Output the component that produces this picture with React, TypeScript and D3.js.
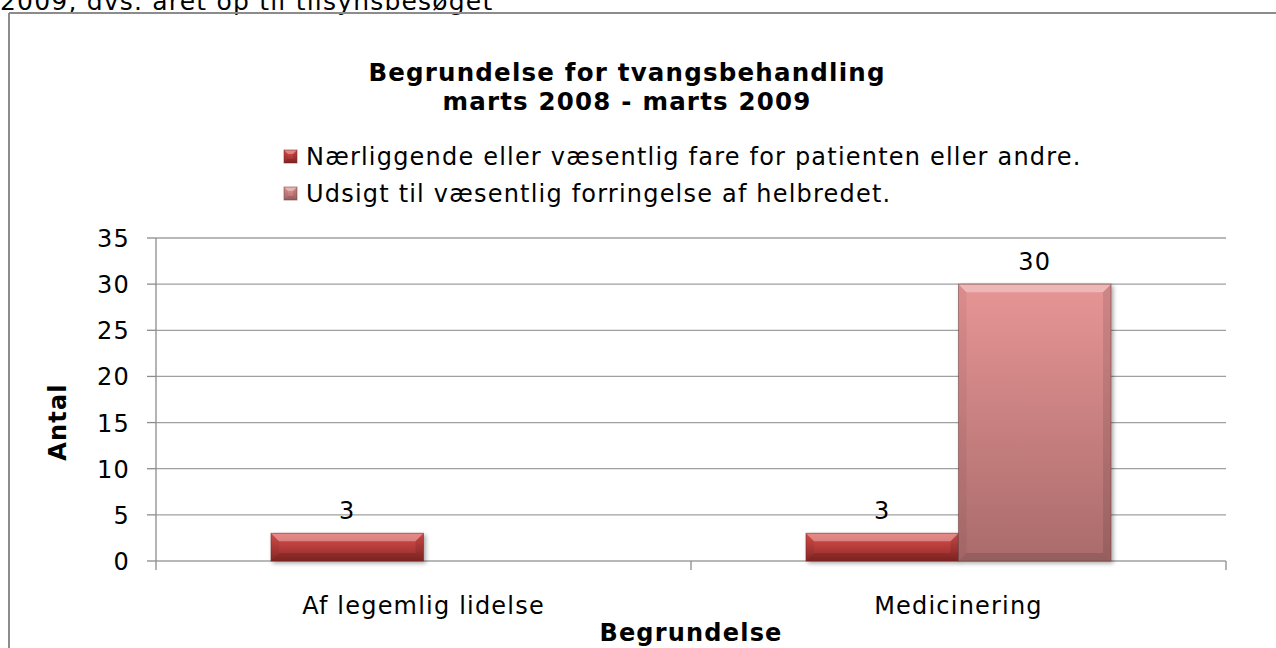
import React from "react";
import * as d3 from "d3";

const categories = ["Af legemlig lidelse", "Medicinering"];
const seriesNames = [
  "Nærliggende eller væsentlig fare for patienten eller andre.",
  "Udsigt til væsentlig forringelse af helbredet.",
];
const series1: (number | null)[] = [3, 3];
const series2: (number | null)[] = [null, 30];
const yTicks = [0, 5, 10, 15, 20, 25, 30, 35];
const titleLines = ["Begrundelse for tvangsbehandling", "marts 2008 - marts 2009"];
const topText = "2009, dvs. året op til tilsynsbesøget";
const yTitle = "Antal";
const xTitle = "Begrundelse";

const W = 1276;
const H = 648;
const FONT = "'DejaVu Sans', Verdana, sans-serif";
const LS = "1.2px";

const seriesStyles = [
  { id: "g1", top: "#dc504d", bottom: "#8d2927", edge: "#7a2220" },
  { id: "g2", top: "#e79595", bottom: "#aa6b6b", edge: "#6e3f3f" },
];

function Bevel({ x, y, w, h, fill, edge, b0 = 8 }: any) {
  const b = Math.min(b0, h / 2, w / 2);
  return (
    <g>
      <rect x={x} y={y} width={w} height={h} fill={fill} />
      <polygon
        points={`${x},${y} ${x + w},${y} ${x + w - b},${y + b} ${x + b},${y + b}`}
        fill="#ffffff"
        fillOpacity={0.33}
      />
      <polygon
        points={`${x},${y} ${x + b},${y + b} ${x + b},${y + h - b} ${x},${y + h}`}
        fill="#000000"
        fillOpacity={0.05}
      />
      <polygon
        points={`${x + w},${y} ${x + w},${y + h} ${x + w - b},${y + h - b} ${x + w - b},${y + b}`}
        fill="#000000"
        fillOpacity={0.1}
      />
      <polygon
        points={`${x},${y + h} ${x + b},${y + h - b} ${x + w - b},${y + h - b} ${x + w},${y + h}`}
        fill="#000000"
        fillOpacity={0.12}
      />
      <rect x={x} y={y} width={w} height={h} fill="none" stroke={edge} strokeOpacity={0.55} strokeWidth={1} />
    </g>
  );
}

export default function App() {
  const x0 = 156;
  const x1 = 1226;
  const y = d3.scaleLinear().domain([0, 35]).range([561, 238]);
  const xBand = d3.scaleBand<string>().domain(categories).range([x0, x1]).padding(0);
  const inner = d3
    .scaleBand<number>()
    .domain([0, 1])
    .range([0, xBand.bandwidth()])
    .paddingInner(0)
    .paddingOuter(0.754);
  const allSeries = [series1, series2];
  const titleCx = 627;

  return (
    <svg
      width={W}
      height={H}
      style={{ position: "absolute", left: 0, top: 0, background: "#ffffff" }}
      fontFamily={FONT}
    >
      <defs>
        {seriesStyles.map((s) => (
          <linearGradient key={s.id} id={s.id} x1="0" y1="0" x2="0" y2="1">
            <stop offset="0" stopColor={s.top} />
            <stop offset="1" stopColor={s.bottom} />
          </linearGradient>
        ))}
        <filter id="shadow" x="-10%" y="-10%" width="130%" height="130%">
          <feDropShadow dx="2" dy="2" stdDeviation="2" floodColor="#000" floodOpacity="0.35" />
        </filter>
      </defs>
      <rect x={0} y={0} width={W} height={H} fill="#ffffff" />

      {/* clipped text above frame */}
      <text x={0} y={10} fontSize={25} letterSpacing={LS} fill="#000">
        {topText}
      </text>

      {/* chart frame */}
      <line x1={9} y1={13} x2={W + 5} y2={13} stroke="#8c8c8c" strokeWidth={2} />
      <line x1={9} y1={13} x2={9} y2={H + 5} stroke="#8c8c8c" strokeWidth={2} />

      {/* title */}
      {titleLines.map((t, i) => (
        <text
          key={i}
          x={titleCx}
          y={81 + i * 29}
          textAnchor="middle"
          fontSize={24.5}
          fontWeight="bold"
          letterSpacing={LS}
          fill="#000"
        >
          {t}
        </text>
      ))}

      {/* legend */}
      {seriesNames.map((name, i) => {
        const by = 165 + i * 37;
        const st = seriesStyles[i];
        return (
          <g key={i}>
            <Bevel x={284} y={by - 15} w={13} h={13} fill={`url(#${st.id})`} edge={st.edge} b0={4} />
            <text x={306} y={by} fontSize={24} letterSpacing={LS} fill="#000">
              {name}
            </text>
          </g>
        );
      })}

      {/* gridlines */}
      {yTicks.map((t) => (
        <line key={t} x1={x0} x2={x1} y1={y(t)} y2={y(t)} stroke="#a0a0a0" strokeWidth={1.3} />
      ))}
      {/* y axis */}
      <line x1={x0} x2={x0} y1={y(35)} y2={y(0)} stroke="#8c8c8c" strokeWidth={1.3} />
      {yTicks.map((t) => (
        <line key={"tk" + t} x1={x0 - 9} x2={x0} y1={y(t)} y2={y(t)} stroke="#8c8c8c" strokeWidth={1.3} />
      ))}
      {yTicks.map((t) => (
        <text
          key={"tl" + t}
          x={130}
          y={y(t) + 9}
          textAnchor="end"
          fontSize={24}
          letterSpacing={LS}
          fill="#000"
        >
          {t}
        </text>
      ))}
      {/* x axis ticks */}
      {[x0, x0 + xBand.bandwidth(), x1].map((xx, i) => (
        <line key={"xt" + i} x1={xx} x2={xx} y1={y(0)} y2={y(0) + 9} stroke="#8c8c8c" strokeWidth={1.3} />
      ))}
      {categories.map((c) => (
        <text
          key={c}
          x={(xBand(c) as number) + xBand.bandwidth() / 2}
          y={614}
          textAnchor="middle"
          fontSize={24}
          letterSpacing={LS}
          fill="#000"
        >
          {c}
        </text>
      ))}

      {/* bars */}
      {allSeries.map((vals, si) =>
        vals.map((v, ci) => {
          if (v == null) return null;
          const bx = (xBand(categories[ci]) as number) + (inner(si) as number);
          const bw = inner.bandwidth();
          const top = y(v);
          const st = seriesStyles[si];
          return (
            <g key={`${si}-${ci}`}>
              <g filter="url(#shadow)">
                <Bevel x={bx} y={top} w={bw} h={y(0) - top} fill={`url(#${st.id})`} edge={st.edge} />
              </g>
              <text
                x={bx + bw / 2}
                y={top - 14}
                textAnchor="middle"
                fontSize={24}
                letterSpacing={LS}
                fill="#000"
              >
                {v}
              </text>
            </g>
          );
        })
      )}

      {/* axis titles */}
      <text
        transform={`translate(66, 422) rotate(-90)`}
        textAnchor="middle"
        fontSize={24}
        fontWeight="bold"
        letterSpacing={LS}
        fill="#000"
      >
        {yTitle}
      </text>
      <text x={(x0 + x1) / 2} y={641} textAnchor="middle" fontSize={24} fontWeight="bold" letterSpacing={LS} fill="#000">
        {xTitle}
      </text>
    </svg>
  );
}
